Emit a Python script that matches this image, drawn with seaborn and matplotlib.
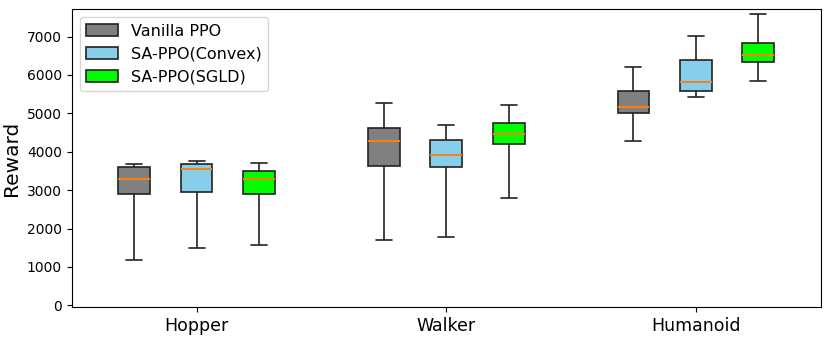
import numpy as np
import pandas as pd
import matplotlib
matplotlib.use("Agg")
import matplotlib.pyplot as plt
import seaborn as sns

# === Data (five-number summaries) ===
envs = ["Hopper", "Walker", "Humanoid"]
methods = ["Vanilla PPO", "SA-PPO(Convex)", "SA-PPO(SGLD)"]
colors = ["#808080", "#87CEEB", "#00FF00"]

# each row: [min, q1, median, q3, max]
vanilla_ppo = [
    [1180, 2900, 3290, 3600, 3680],
    [1690, 3620, 4280, 4620, 5260],
    [4280, 5000, 5170, 5580, 6200],
]
sa_ppo_convex = [
    [1480, 2960, 3560, 3670, 3760],
    [1790, 3590, 3920, 4300, 4690],
    [5430, 5590, 5820, 6380, 7010],
]
sa_ppo_sgld = [
    [1570, 2900, 3290, 3490, 3700],
    [2800, 4200, 4460, 4740, 5210],
    [5850, 6350, 6530, 6820, 7600],
]

# === Long-form table ===
rows = []
for method, summaries in zip(methods, [vanilla_ppo, sa_ppo_convex, sa_ppo_sgld]):
    for env, vals in zip(envs, summaries):
        for v in vals:
            rows.append({"env": env, "method": method, "reward": v})
df = pd.DataFrame(rows)

# === Plot ===
sns.set_style("ticks")
plt.rcParams["font.family"] = ["DejaVu Sans"]
plt.rcParams.update({
    "text.color": "black", "axes.labelcolor": "black",
    "xtick.color": "black", "ytick.color": "black",
    "axes.edgecolor": "black",
})

fig, ax = plt.subplots(figsize=(8.3, 3.37), dpi=100)
fig.subplots_adjust(left=0.0864, right=0.9888, top=0.9724, bottom=0.089)

sns.boxplot(
    data=df, x="env", y="reward", hue="method",
    order=envs, hue_order=methods, palette=colors,
    width=0.75, gap=0.49, whis=(0, 100), showfliers=False,
    linecolor="#222222", linewidth=1.2, saturation=1,
    medianprops={"color": "#ff7f0e", "linewidth": 1.4},
    ax=ax,
)

ax.set_xlim(-0.5, 2.5)
ax.set_ylim(-45, 7710)
ax.set_yticks(range(0, 8000, 1000))
ax.set_xlabel("")
ax.set_ylabel("Reward", fontsize=14.5)
ax.tick_params(axis="x", labelsize=12.5)
ax.tick_params(axis="y", labelsize=10)

handles, labels = ax.get_legend_handles_labels()
ax.legend(handles, labels, loc="upper left", fontsize=11.5)

plt.savefig("out.png", dpi=100)
plt.close()
